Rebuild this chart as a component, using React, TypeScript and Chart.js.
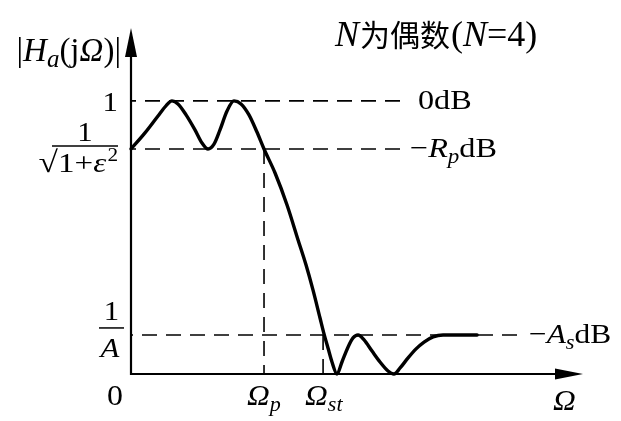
import React, { useEffect, useRef } from "react";
import { Chart, registerables } from "chart.js";

Chart.register(...registerables);

// Normalised frequency (Ω / Ωp) and magnitude |Ha(jΩ)|
const curveX = [
  0, 0.105, 0.203, 0.263, 0.308, 0.353, 0.414, 0.481, 0.534, 0.579, 0.624, 0.669,
  0.722, 0.774, 0.827, 0.887, 0.947, 1.0, 1.083, 1.173, 1.256, 1.316, 1.368, 1.421,
  1.451, 1.481, 1.511, 1.549, 1.586, 1.632, 1.669, 1.707, 1.752, 1.812, 1.872, 1.932,
  1.977, 2.023, 2.083, 2.143, 2.203, 2.271, 2.346, 2.474, 2.602,
];
const curveY = [
  0.824, 0.883, 0.945, 0.982, 1.0, 0.989, 0.949, 0.894, 0.846, 0.824, 0.842, 0.894,
  0.963, 1.0, 0.989, 0.949, 0.886, 0.824, 0.736, 0.619, 0.491, 0.399, 0.308, 0.205,
  0.147, 0.095, 0.044, 0, 0.044, 0.099, 0.132, 0.143, 0.125, 0.084, 0.044, 0.011,
  0, 0.022, 0.059, 0.092, 0.117, 0.136, 0.143, 0.143, 0.143,
];

const levelPass = 1.0; // 0 dB
const levelRipple = 0.824; // 1/sqrt(1+ε²)
const levelStop = 0.143; // 1/A
const omegaP = 1.0;
const omegaSt = 1.444;
const xMax = 3.398;
const yMax = 1.267;
const passDashEnd = 2.023;
const stopDashEnd = 2.902;

const SERIF = '"Liberation Serif", "DejaVu Serif", serif';
const CJK = '"Noto Sans CJK SC", "Noto Sans CJK JP", sans-serif';

type Run = { t: string; size: number; italic?: boolean; dy?: number; family?: string; dx?: number };

function setFont(ctx: CanvasRenderingContext2D, r: Run) {
  ctx.font = `${r.italic ? "italic " : ""}${r.size}px ${r.family || SERIF}`;
}
function runsWidth(ctx: CanvasRenderingContext2D, runs: Run[]) {
  let w = 0;
  for (const r of runs) {
    setFont(ctx, r);
    w += ctx.measureText(r.t).width + (r.dx || 0);
  }
  return w;
}
function drawRuns(
  ctx: CanvasRenderingContext2D,
  runs: Run[],
  x: number,
  y: number,
  align: "left" | "right" | "center" = "left",
  sx = 1
) {
  const w = runsWidth(ctx, runs) * sx;
  const start = align === "left" ? x : align === "right" ? x - w : x - w / 2;
  ctx.save();
  ctx.translate(start, y);
  ctx.scale(sx, 1);
  ctx.textAlign = "left";
  ctx.textBaseline = "alphabetic";
  let cx = 0;
  for (const r of runs) {
    setFont(ctx, r);
    cx += r.dx || 0;
    ctx.fillText(r.t, cx, r.dy || 0);
    cx += ctx.measureText(r.t).width;
  }
  ctx.restore();
}

const decorPlugin = {
  id: "decor",
  beforeDatasetsDraw(chart: any) {
    const ctx: CanvasRenderingContext2D = chart.ctx;
    const X = (v: number) => chart.scales.x.getPixelForValue(v);
    const Y = (v: number) => chart.scales.y.getPixelForValue(v);
    ctx.save();
    ctx.strokeStyle = "#000";
    ctx.fillStyle = "#000";
    ctx.lineWidth = 2.2;
    ctx.beginPath();
    ctx.moveTo(X(0), Y(0));
    ctx.lineTo(X(xMax) - 20, Y(0));
    ctx.moveTo(X(0), Y(0) + 1);
    ctx.lineTo(X(0), Y(yMax) + 20);
    ctx.stroke();
    // arrowheads
    ctx.beginPath();
    ctx.moveTo(X(xMax), Y(0));
    ctx.lineTo(X(xMax) - 28, Y(0) - 5.5);
    ctx.lineTo(X(xMax) - 28, Y(0) + 5.5);
    ctx.closePath();
    ctx.fill();
    ctx.beginPath();
    ctx.moveTo(X(0), Y(yMax));
    ctx.lineTo(X(0) - 6, Y(yMax) + 29);
    ctx.lineTo(X(0) + 6, Y(yMax) + 29);
    ctx.closePath();
    ctx.fill();
    ctx.restore();
  },
  afterDraw(chart: any) {
    const ctx: CanvasRenderingContext2D = chart.ctx;
    const X = (v: number) => chart.scales.x.getPixelForValue(v);
    const Y = (v: number) => chart.scales.y.getPixelForValue(v);
    ctx.save();
    ctx.fillStyle = "#000";
    ctx.strokeStyle = "#000";

    // y-axis title |Ha(jΩ)|
    drawRuns(
      ctx,
      [
        { t: "|", size: 33 },
        { t: "H", size: 33, italic: true },
        { t: "a", size: 25, italic: true, dy: 6 },
        { t: "(j", size: 33 },
        { t: "Ω", size: 33, italic: true },
        { t: ")|", size: 33 },
      ],
      X(0) - 10,
      61,
      "right"
    );

    // title
    drawRuns(
      ctx,
      [
        { t: "N", size: 36, italic: true },
        { t: "为偶数", size: 30, family: CJK, dx: 1 },
        { t: "(", size: 36, dx: 1 },
        { t: "N", size: 36, italic: true },
        { t: "=4)", size: 36 },
      ],
      335,
      46,
      "left"
    );

    // level labels on the left
    drawRuns(ctx, [{ t: "1", size: 28 }], X(0) - 13, Y(levelPass) + 10, "right", 1.1);
    // fraction 1/sqrt(1+ε²)
    const fr = X(0) - 13;
    ctx.lineWidth = 1.5;
    ctx.beginPath();
    ctx.moveTo(52, Y(levelRipple) - 3);
    ctx.lineTo(fr, Y(levelRipple) - 3);
    ctx.stroke();
    drawRuns(ctx, [{ t: "1", size: 28 }], (52 + fr) / 2, Y(levelRipple) - 8, "center", 1.1);
    drawRuns(
      ctx,
      [
        { t: "√", size: 30 },
        { t: "1+", size: 28 },
        { t: "ε", size: 28, italic: true },
        { t: "2", size: 18, dy: -11, dx: 1 },
      ],
      fr,
      Y(levelRipple) + 23,
      "right",
      1.18
    );
    // fraction 1/A
    ctx.beginPath();
    ctx.moveTo(99, Y(levelStop) - 7);
    ctx.lineTo(124, Y(levelStop) - 7);
    ctx.stroke();
    drawRuns(ctx, [{ t: "1", size: 28 }], 111.5, Y(levelStop) - 15, "center", 1.1);
    drawRuns(ctx, [{ t: "A", size: 28, italic: true }], 110, Y(levelStop) + 22, "center", 1.1);

    // right labels
    drawRuns(ctx, [{ t: "0dB", size: 28 }], 418, Y(levelPass) + 8, "left", 1.15);
    drawRuns(
      ctx,
      [
        { t: "−", size: 28 },
        { t: "R", size: 28, italic: true },
        { t: "p", size: 20, italic: true, dy: 6 },
        { t: "dB", size: 28 },
      ],
      410,
      Y(levelRipple) + 8,
      "left",
      1.15
    );
    drawRuns(
      ctx,
      [
        { t: "−", size: 28 },
        { t: "A", size: 28, italic: true },
        { t: "s", size: 20, italic: true, dy: 6 },
        { t: "dB", size: 28 },
      ],
      529,
      Y(levelStop) + 8,
      "left",
      1.12
    );

    // x-axis labels
    drawRuns(ctx, [{ t: "0", size: 29 }], X(0) - 16, 405, "center", 1.1);
    drawRuns(
      ctx,
      [
        { t: "Ω", size: 30, italic: true },
        { t: "p", size: 21, italic: true, dy: 6 },
      ],
      X(omegaP) - 17,
      405,
      "left",
      1.05
    );
    drawRuns(
      ctx,
      [
        { t: "Ω", size: 30, italic: true },
        { t: "st", size: 21, italic: true, dy: 6 },
      ],
      X(omegaSt) - 18,
      405,
      "left",
      1.05
    );
    drawRuns(ctx, [{ t: "Ω", size: 30, italic: true }], X(xMax) - 30, 410, "left", 1.05);
    ctx.restore();
  },
};

export default function App() {
  const ref = useRef<HTMLCanvasElement | null>(null);
  useEffect(() => {
    if (!ref.current) return;
    const dash = [15, 9];
    const dashed = (pts: { x: number; y: number }[], offset = 0) => ({
      data: pts,
      showLine: true,
      borderColor: "#000",
      borderWidth: 1.6,
      borderDash: dash,
      borderDashOffset: offset,
      pointRadius: 0,
      clip: false as any,
      tension: 0,
    });
    const chart = new Chart(ref.current, {
      type: "scatter",
      data: {
        datasets: [
          {
            data: curveX.map((x, i) => ({ x, y: curveY[i] })),
            showLine: true,
            borderColor: "#000",
            borderWidth: 3.4,
            pointRadius: 0,
            cubicInterpolationMode: "monotone",
            borderCapStyle: "round",
            borderJoinStyle: "round",
            clip: false as any,
          } as any,
          dashed(
            [
              { x: 0, y: levelPass },
              { x: passDashEnd, y: levelPass },
            ],
            10
          ),
          dashed(
            [
              { x: 0, y: levelRipple },
              { x: passDashEnd, y: levelRipple },
            ],
            10
          ),
          dashed(
            [
              { x: 0, y: levelStop },
              { x: stopDashEnd, y: levelStop },
            ],
            13
          ),
          dashed([
            { x: omegaP, y: levelRipple },
            { x: omegaP, y: 0 },
          ]),
          dashed([
            { x: omegaSt, y: levelStop },
            { x: omegaSt, y: 0 },
          ]),
        ],
      },
      options: {
        responsive: false,
        devicePixelRatio: 1,
        animation: false,
        events: [],
        layout: { padding: { left: 131, right: 38, top: 28, bottom: 47 } },
        plugins: { legend: { display: false }, tooltip: { enabled: false }, title: { display: false } },
        scales: {
          x: { type: "linear", min: 0, max: xMax, display: false },
          y: { type: "linear", min: 0, max: yMax, display: false },
        },
      },
      plugins: [decorPlugin],
    });
    return () => chart.destroy();
  }, []);
  return (
    <div style={{ position: "absolute", left: 0, top: 0, width: 621, height: 421, background: "#fff" }}>
      <canvas ref={ref} width={621} height={421} style={{ display: "block" }} />
    </div>
  );
}
